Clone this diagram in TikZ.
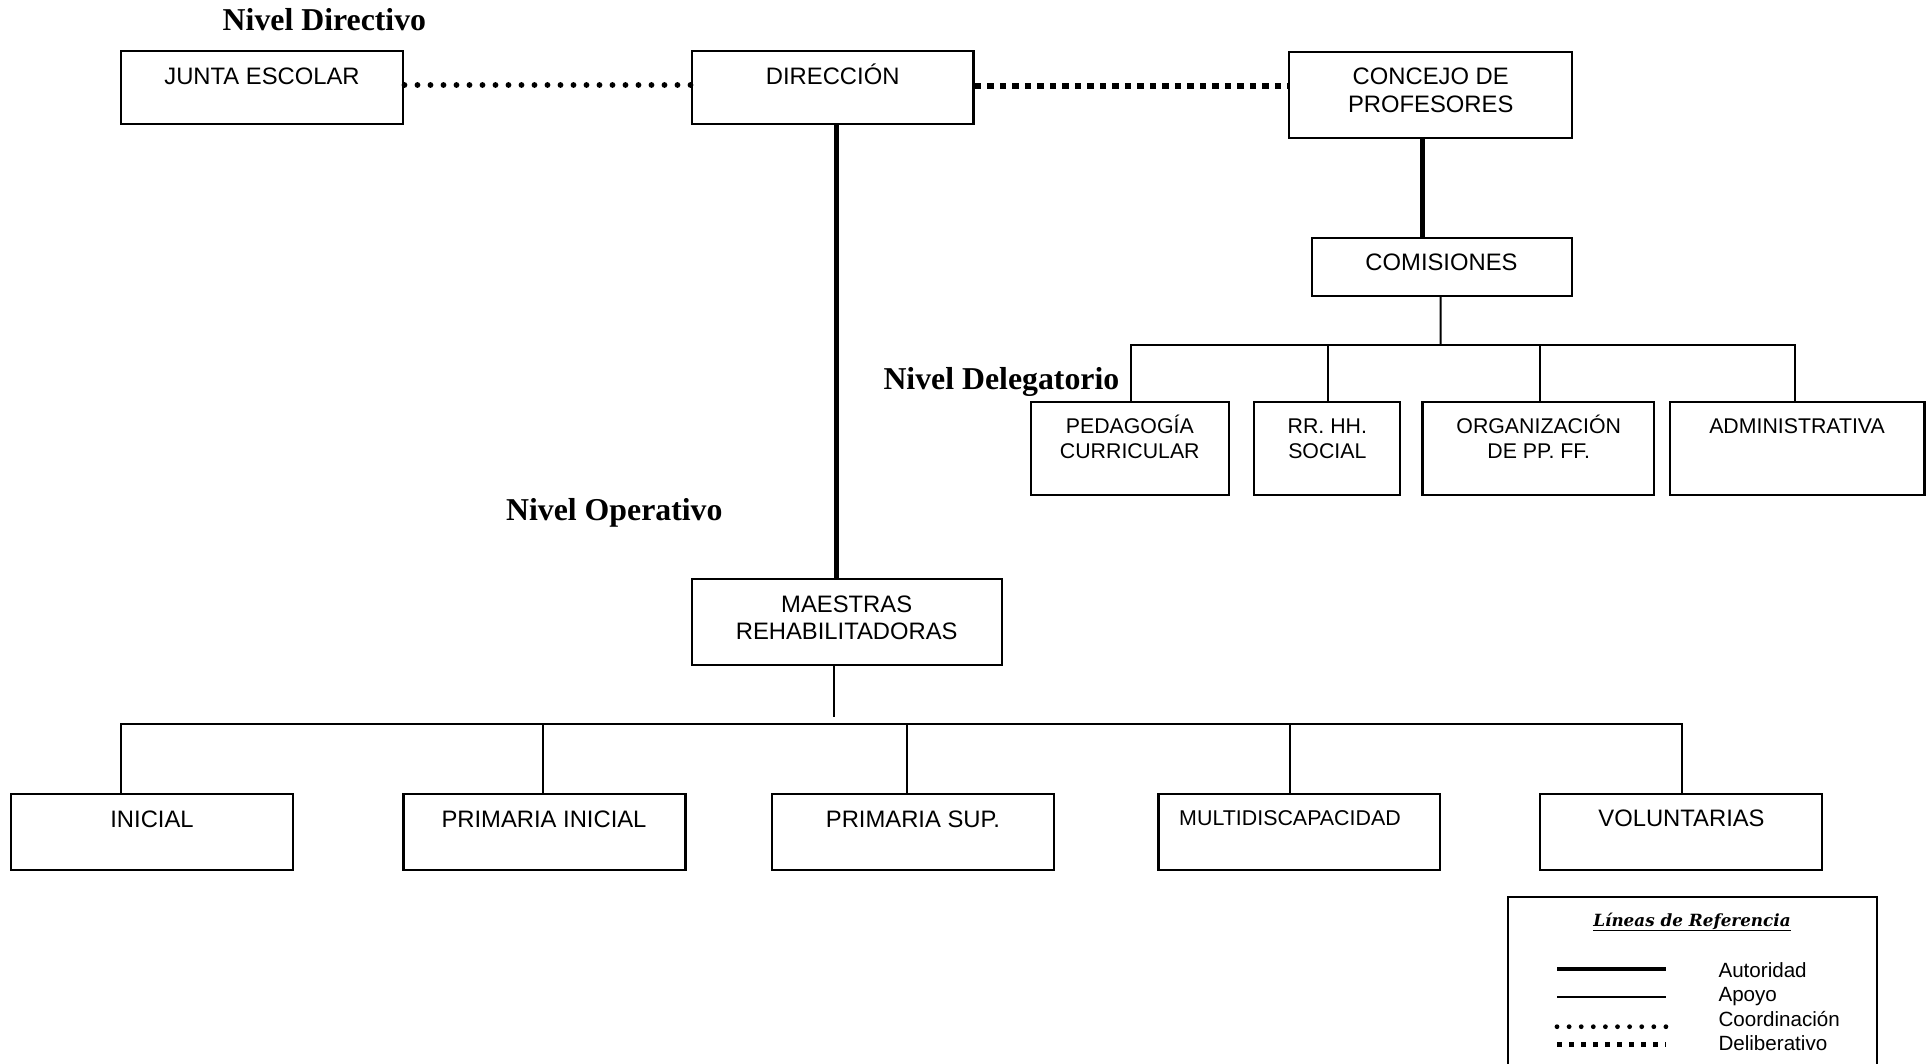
\documentclass[tikz,border=0pt]{standalone}
\usepackage{fontspec}
\setmainfont{Liberation Sans}
\newfontfamily\tnr{Liberation Serif}
\newfontfamily\dvs{DejaVu Serif}
\usetikzlibrary{fit}
\newcommand\twoline[2]{\vtop{\halign{\hfil##\hfil\cr#1\cr#2\cr}}}
\tikzset{
  box/.style={draw, line width=2.3pt, inner sep=0pt},
  lbl/.style={inner sep=0pt, anchor=base, font=\fontsize{23.8}{27.2}\selectfont},
  slbl/.style={lbl, font=\fontsize{21.3}{25}\selectfont},
  mlbl/.style={lbl, font=\fontsize{21.4}{24}\selectfont},
  nivel/.style={inner sep=0pt, anchor=base west, font=\tnr\bfseries\fontsize{31.8}{36}\selectfont},
  leglbl/.style={inner sep=0pt, anchor=base west, font=\fontsize{20.6}{24}\selectfont},
  autoridad/.style={line width=4.7pt},
  apoyo/.style={line width=2pt},
  coord/.style={line width=5.8pt, line cap=round, dash pattern=on 0pt off 13pt},
  delib/.style={line width=6pt, dash pattern=on 6.5pt off 6pt},
}
\begin{document}
\begin{tikzpicture}[x=1pt,y=-1pt]
\useasboundingbox (0,0) rectangle (1930,1064);
\fill[white] (0,0) rectangle (1930,1064);

% level titles
\node[nivel] (nd) at (222.5,30.7) {Nivel Directivo};
\node[nivel] (ndel) at (883.3,389.3) {Nivel Delegatorio};
\node[nivel] (nop) at (505.9,520) {Nivel Operativo};

% top row
\node[box, fit={(120.7,50.7) (403.3,124.3)}] (junta) {};
\node[lbl] (junta-t) at (262,85) {JUNTA ESCOLAR};
\node[box, fit={(691.8,50.7) (973.6,124.3)}] (dir) {};
\node[lbl] (dir-t) at (832.7,85) {DIRECCIÓN};
\node[box, fit={(1289.3,51.7) (1572,138.3)}] (conc) {};
\node[lbl] (conc-t) at (1430.7,85) {\twoline{CONCEJO DE}{PROFESORES}};
\node[box, fit={(1311.7,238.3) (1572,296)}] (comis) {};
\node[lbl] (comis-t) at (1441.5,271) {COMISIONES};

% delegated row
\node[box, fit={(1031,402.3) (1228.7,495)}] (ped) {};
\node[slbl] (ped-t) at (1129.8,433.3) {\twoline{PEDAGOGÍA}{CURRICULAR}};
\node[box, fit={(1254.3,402.3) (1400.3,495)}] (rrhh) {};
\node[slbl] (rrhh-t) at (1327.3,433.3) {\twoline{RR. HH.}{SOCIAL}};
\node[box, fit={(1422.5,402.3) (1654.3,495)}] (org) {};
\node[slbl] (org-t) at (1538.7,433.3) {\twoline{ORGANIZACIÓN}{DE PP. FF.}};
\node[box, fit={(1670,402.3) (1924.5,495)}] (adm) {};
\node[slbl] (adm-t) at (1797,433.3) {ADMINISTRATIVA};

% operative
\node[box, fit={(691.7,579) (1001.7,665)}] (mae) {};
\node[lbl] (mae-t) at (846.7,612.3) {\twoline{MAESTRAS}{REHABILITADORAS}};

% bottom row
\node[box, fit={(11,794.3) (293,870)}] (ini) {};
\node[lbl] (ini-t) at (152,827.3) {INICIAL};
\node[box, fit={(403.5,794.3) (685.5,870)}] (pri) {};
\node[lbl] (pri-t) at (544,827.3) {PRIMARIA INICIAL};
\node[box, fit={(772,794.3) (1054,870)}] (prs) {};
\node[lbl] (prs-t) at (913,827.3) {PRIMARIA SUP.};
\node[box, fit={(1158.4,794.3) (1440,870)}] (mul) {};
\node[mlbl] (mul-t) at (1290,825) {MULTIDISCAPACIDAD};
\node[box, fit={(1539.7,794.3) (1822,870)}] (vol) {};
\node[lbl] (vol-t) at (1681.5,826.7) {VOLUNTARIAS};

% connectors, top level
\draw[coord] ([yshift=2.5pt]junta.east) -- ([yshift=2.5pt]junta.east -| dir.west);
\draw[delib] ([yshift=1.8pt]dir.east) -- ([yshift=1.8pt]dir.east -| conc.west);
\draw[autoridad] ([xshift=3.5pt]dir.south) -- ([xshift=3.5pt]dir.south |- mae.north);
\draw[autoridad] ([xshift=-8.4pt]conc.south) -- ([xshift=-8.4pt]conc.south |- comis.north);

% delegated bus
\coordinate (dbus) at (1440.5,345);
\draw[apoyo] ([xshift=-1.3pt]comis.south) -- (dbus);
\draw[apoyo] ([xshift=1pt]ped.north) -- ([xshift=1pt]ped.north |- dbus) -- ([xshift=-2.5pt]adm.north |- dbus) -- ([xshift=-2.5pt]adm.north);
\draw[apoyo] ([xshift=0.7pt]rrhh.north) -- ([xshift=0.7pt]rrhh.north |- dbus);
\draw[apoyo] ([xshift=1.3pt]org.north) -- ([xshift=1.3pt]org.north |- dbus);

% operative bus
\coordinate (mend) at (834,717.3);
\draw[apoyo] (mae.south -| mend) -- (mend);
\coordinate (b1) at (121,724.3);
\coordinate (b2) at (542.8,724.3);
\coordinate (b3) at (907,724.3);
\coordinate (b4) at (1290,724.3);
\coordinate (b5) at (1681.5,724.3);
\draw[apoyo] (b1 |- ini.north) -- (b1) -- (b5) -- (b5 |- vol.north);
\draw[apoyo] (b2) -- (b2 |- pri.north);
\draw[apoyo] (b3) -- (b3 |- prs.north);
\draw[apoyo] (b4) -- (b4 |- mul.north);

% legend
\begin{scope}
\clip (0,0) rectangle (1930,1064);
\node[box, line width=2pt, fit={(1508.3,897.3) (1876.7,1080)}] (leg) {};
\end{scope}
\node[inner sep=0pt, anchor=base, font=\dvs\bfseries\itshape\fontsize{16.8}{19}\selectfont] (leg-t) at (1692,926) {\underline{Líneas de Referencia}};
\coordinate (l1a) at (1557,969.3); \coordinate (l1b) at (1666,969.3);
\coordinate (l2a) at (1557,997.3); \coordinate (l2b) at (1666,997.3);
\coordinate (l3a) at (1557,1026.7); \coordinate (l3b) at (1666,1026.7);
\coordinate (l4a) at (1557,1044); \coordinate (l4b) at (1666,1044);
\draw[line width=4pt] (l1a) -- (l1b);
\draw[line width=1.7pt] (l2a) -- (l2b);
\draw[line width=4.8pt, line cap=round, dash pattern=on 0pt off 12.1pt] (l3a) -- (l3b);
\draw[line width=5pt, dash pattern=on 5pt off 7pt] (l4a) -- (l4b);
\node[leglbl] (lg1) at (1718.3,977.3) {Autoridad};
\node[leglbl] (lg2) at (1718.3,1001.7) {Apoyo};
\node[leglbl] (lg3) at (1718.3,1026.7) {Coordinación};
\node[leglbl] (lg4) at (1718.3,1050) {Deliberativo};
\end{tikzpicture}
\end{document}
